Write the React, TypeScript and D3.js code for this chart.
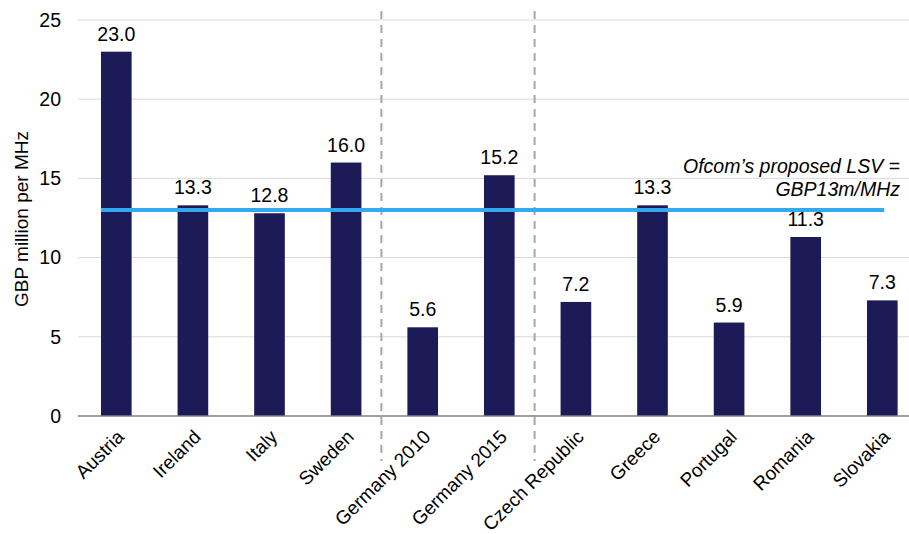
import React from 'react';
import * as d3 from 'd3';

const categories = ['Austria', 'Ireland', 'Italy', 'Sweden', 'Germany 2010', 'Germany 2015', 'Czech Republic', 'Greece', 'Portugal', 'Romania', 'Slovakia'];
const values = [23.0, 13.3, 12.8, 16.0, 5.6, 15.2, 7.2, 13.3, 5.9, 11.3, 7.3];
const yTicks = [0, 5, 10, 15, 20, 25];
const lsv = 13;
const dividersAfter = ['Sweden', 'Germany 2015'];

const W = 909;
const H = 534;
const FONT = 'Liberation Sans, Arial, sans-serif';

const App = () => {
  const x = d3.scaleBand<string>().domain(categories).range([78, 78 + 11 * 76.6]).paddingInner(0.6).paddingOuter(0.3);
  const y = d3.scaleLinear().domain([0, 25]).range([416, 20]);
  const step = x.step();
  const bw = x.bandwidth();
  const center = (c: string) => (x(c) as number) + bw / 2;

  return (
    <svg width={W} height={H} style={{ position: 'absolute', left: 0, top: 0, background: '#fff' }} fontFamily={FONT}>
      {/* grid */}
      {yTicks.filter(t => t > 0).map(t => (
        <line key={t} x1={78} x2={W} y1={y(t)} y2={y(t)} stroke="#d9d9d9" strokeWidth={1} />
      ))}
      {yTicks.map(t => (
        <text key={'t' + t} x={61} y={y(t)} dy="0.35em" textAnchor="end" fontSize={19.5} fill="#000">{t}</text>
      ))}
      <text transform={`translate(28,219) rotate(-90)`} textAnchor="middle" fontSize={19} fill="#000">GBP million per MHz</text>

      {/* bars */}
      {categories.map((c, i) => (
        <g key={c}>
          <rect x={x(c)} y={y(values[i])} width={bw} height={y(0) - y(values[i])} fill="#1c1a57" />
          <text x={center(c)} y={y(values[i]) - 11} textAnchor="middle" fontSize={19.5} fill="#000">{values[i].toFixed(1)}</text>
          <text transform={`translate(${center(c) + 9},${438}) rotate(-45)`} textAnchor="end" fontSize={19} fill="#000">{c}</text>
        </g>
      ))}

      {/* axis */}
      <line x1={78} x2={W} y1={y(0)} y2={y(0)} stroke="#7f7f7f" strokeWidth={1.5} />

      {/* dividers */}
      {dividersAfter.map(c => {
        const xd = (x(c) as number) + bw + (step - bw) / 2 - 3;
        return <line key={c} x1={xd} x2={xd} y1={11} y2={461} stroke="#a6a6a6" strokeWidth={2} strokeDasharray="8,6" />;
      })}

      {/* LSV line */}
      <line x1={x('Austria')} x2={center('Slovakia') + 2} y1={y(lsv)} y2={y(lsv)} stroke="#33aaf0" strokeWidth={4} />
      <text x={900} y={173} textAnchor="end" fontSize={19.5} fontStyle="italic" fill="#000">Ofcom’s proposed LSV =</text>
      <text x={900} y={196} textAnchor="end" fontSize={19.5} fontStyle="italic" fill="#000">GBP13m/MHz</text>
    </svg>
  );
};

export default App;
